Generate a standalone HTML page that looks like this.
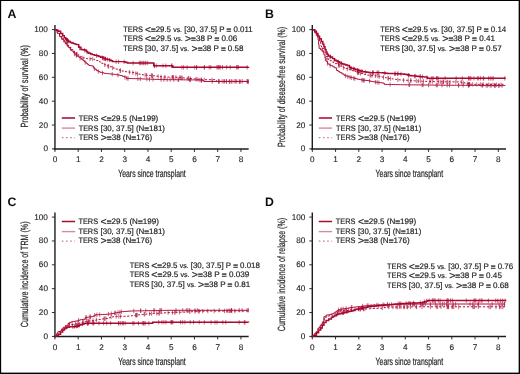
<!DOCTYPE html>
<html><head><meta charset="utf-8"><style>html,body{margin:0;padding:0;background:#fff;width:520px;height:374px;overflow:hidden}svg{display:block;will-change:transform}</style></head>
<body>
<svg width="520" height="374" viewBox="0 0 520 374">
<style>text{font-family:"Liberation Sans",sans-serif;fill:#1e1e1e;text-rendering:geometricPrecision}.tk{font-size:8.2px;stroke:#1e1e1e;stroke-width:0.12px}.xl{font-size:10.4px;stroke:#2b2b2b;stroke-width:0.22px}.vs{font-size:7px}.eq{font-weight:bold;font-size:8.2px;baseline-shift:-0.5px;stroke:#333;stroke-width:0.3px;fill:#333}.lt{font-size:10.5px;baseline-shift:-0.9px}.lg{font-size:8px;stroke:#1e1e1e;stroke-width:0.18px}.pl{font-size:12.3px;font-weight:bold;fill:#111}</style>
<defs><filter id="sb" x="-2%" y="-2%" width="104%" height="104%"><feGaussianBlur stdDeviation="0.3"/></filter></defs>
<rect x="0" y="0" width="520" height="374" fill="#000"/>
<rect x="1.15" y="1.0" width="517.5" height="371.6" fill="#fff"/>
<g filter="url(#sb)">
<line x1="54.95" y1="24.900000000000006" x2="54.95" y2="149.9" stroke="#1c1c1c" stroke-width="1.4"/>
<line x1="53.95" y1="148.9" x2="248.64999999999998" y2="148.9" stroke="#1c1c1c" stroke-width="1.5"/>
<line x1="51.95" y1="148.90" x2="54.95" y2="148.90" stroke="#2a2a2a" stroke-width="1"/>
<text x="47.95" y="151.40" text-anchor="end" class="tk">0</text>
<line x1="51.95" y1="125.04" x2="54.95" y2="125.04" stroke="#2a2a2a" stroke-width="1"/>
<text x="47.95" y="127.54" text-anchor="end" class="tk">20</text>
<line x1="51.95" y1="101.18" x2="54.95" y2="101.18" stroke="#2a2a2a" stroke-width="1"/>
<text x="47.95" y="103.68" text-anchor="end" class="tk">40</text>
<line x1="51.95" y1="77.32" x2="54.95" y2="77.32" stroke="#2a2a2a" stroke-width="1"/>
<text x="47.95" y="79.82" text-anchor="end" class="tk">60</text>
<line x1="51.95" y1="53.46" x2="54.95" y2="53.46" stroke="#2a2a2a" stroke-width="1"/>
<text x="47.95" y="55.96" text-anchor="end" class="tk">80</text>
<line x1="51.95" y1="29.60" x2="54.95" y2="29.60" stroke="#2a2a2a" stroke-width="1"/>
<text x="47.95" y="32.10" text-anchor="end" class="tk">100</text>
<line x1="54.95" y1="148.9" x2="54.95" y2="151.9" stroke="#2a2a2a" stroke-width="1"/>
<text x="54.95" y="162.30" text-anchor="middle" class="tk">0</text>
<line x1="78.20" y1="148.9" x2="78.20" y2="151.9" stroke="#2a2a2a" stroke-width="1"/>
<text x="78.20" y="162.30" text-anchor="middle" class="tk">1</text>
<line x1="101.45" y1="148.9" x2="101.45" y2="151.9" stroke="#2a2a2a" stroke-width="1"/>
<text x="101.45" y="162.30" text-anchor="middle" class="tk">2</text>
<line x1="124.70" y1="148.9" x2="124.70" y2="151.9" stroke="#2a2a2a" stroke-width="1"/>
<text x="124.70" y="162.30" text-anchor="middle" class="tk">3</text>
<line x1="147.95" y1="148.9" x2="147.95" y2="151.9" stroke="#2a2a2a" stroke-width="1"/>
<text x="147.95" y="162.30" text-anchor="middle" class="tk">4</text>
<line x1="171.20" y1="148.9" x2="171.20" y2="151.9" stroke="#2a2a2a" stroke-width="1"/>
<text x="171.20" y="162.30" text-anchor="middle" class="tk">5</text>
<line x1="194.45" y1="148.9" x2="194.45" y2="151.9" stroke="#2a2a2a" stroke-width="1"/>
<text x="194.45" y="162.30" text-anchor="middle" class="tk">6</text>
<line x1="217.70" y1="148.9" x2="217.70" y2="151.9" stroke="#2a2a2a" stroke-width="1"/>
<text x="217.70" y="162.30" text-anchor="middle" class="tk">7</text>
<line x1="240.95" y1="148.9" x2="240.95" y2="151.9" stroke="#2a2a2a" stroke-width="1"/>
<text x="240.95" y="162.30" text-anchor="middle" class="tk">8</text>
<text x="118.25" y="177.1" class="xl" textLength="67.5" lengthAdjust="spacingAndGlyphs">Years since transplant</text>
<text transform="translate(28.1,127.6) rotate(-90)" x="0" y="0" class="xl" textLength="82.6" lengthAdjust="spacingAndGlyphs">Probability of survival (%)</text>
<text x="7.4" y="17.5" class="pl">A</text>
<line x1="312.3" y1="24.900000000000006" x2="312.3" y2="149.9" stroke="#1c1c1c" stroke-width="1.4"/>
<line x1="311.3" y1="148.9" x2="506.0" y2="148.9" stroke="#1c1c1c" stroke-width="1.5"/>
<line x1="309.3" y1="148.90" x2="312.3" y2="148.90" stroke="#2a2a2a" stroke-width="1"/>
<text x="305.3" y="151.40" text-anchor="end" class="tk">0</text>
<line x1="309.3" y1="125.04" x2="312.3" y2="125.04" stroke="#2a2a2a" stroke-width="1"/>
<text x="305.3" y="127.54" text-anchor="end" class="tk">20</text>
<line x1="309.3" y1="101.18" x2="312.3" y2="101.18" stroke="#2a2a2a" stroke-width="1"/>
<text x="305.3" y="103.68" text-anchor="end" class="tk">40</text>
<line x1="309.3" y1="77.32" x2="312.3" y2="77.32" stroke="#2a2a2a" stroke-width="1"/>
<text x="305.3" y="79.82" text-anchor="end" class="tk">60</text>
<line x1="309.3" y1="53.46" x2="312.3" y2="53.46" stroke="#2a2a2a" stroke-width="1"/>
<text x="305.3" y="55.96" text-anchor="end" class="tk">80</text>
<line x1="309.3" y1="29.60" x2="312.3" y2="29.60" stroke="#2a2a2a" stroke-width="1"/>
<text x="305.3" y="32.10" text-anchor="end" class="tk">100</text>
<line x1="312.30" y1="148.9" x2="312.30" y2="151.9" stroke="#2a2a2a" stroke-width="1"/>
<text x="312.30" y="162.30" text-anchor="middle" class="tk">0</text>
<line x1="335.55" y1="148.9" x2="335.55" y2="151.9" stroke="#2a2a2a" stroke-width="1"/>
<text x="335.55" y="162.30" text-anchor="middle" class="tk">1</text>
<line x1="358.80" y1="148.9" x2="358.80" y2="151.9" stroke="#2a2a2a" stroke-width="1"/>
<text x="358.80" y="162.30" text-anchor="middle" class="tk">2</text>
<line x1="382.05" y1="148.9" x2="382.05" y2="151.9" stroke="#2a2a2a" stroke-width="1"/>
<text x="382.05" y="162.30" text-anchor="middle" class="tk">3</text>
<line x1="405.30" y1="148.9" x2="405.30" y2="151.9" stroke="#2a2a2a" stroke-width="1"/>
<text x="405.30" y="162.30" text-anchor="middle" class="tk">4</text>
<line x1="428.55" y1="148.9" x2="428.55" y2="151.9" stroke="#2a2a2a" stroke-width="1"/>
<text x="428.55" y="162.30" text-anchor="middle" class="tk">5</text>
<line x1="451.80" y1="148.9" x2="451.80" y2="151.9" stroke="#2a2a2a" stroke-width="1"/>
<text x="451.80" y="162.30" text-anchor="middle" class="tk">6</text>
<line x1="475.05" y1="148.9" x2="475.05" y2="151.9" stroke="#2a2a2a" stroke-width="1"/>
<text x="475.05" y="162.30" text-anchor="middle" class="tk">7</text>
<line x1="498.30" y1="148.9" x2="498.30" y2="151.9" stroke="#2a2a2a" stroke-width="1"/>
<text x="498.30" y="162.30" text-anchor="middle" class="tk">8</text>
<text x="375.6" y="177.1" class="xl" textLength="67.5" lengthAdjust="spacingAndGlyphs">Years since transplant</text>
<text transform="translate(285.3,147.0) rotate(-90)" x="0" y="0" class="xl" textLength="120.1" lengthAdjust="spacingAndGlyphs">Probability of disease-free survival (%)</text>
<text x="265.0" y="17.6" class="pl">B</text>
<line x1="54.95" y1="212.39999999999998" x2="54.95" y2="337.4" stroke="#1c1c1c" stroke-width="1.4"/>
<line x1="53.95" y1="336.4" x2="248.64999999999998" y2="336.4" stroke="#1c1c1c" stroke-width="1.5"/>
<line x1="51.95" y1="336.40" x2="54.95" y2="336.40" stroke="#2a2a2a" stroke-width="1"/>
<text x="47.95" y="338.90" text-anchor="end" class="tk">0</text>
<line x1="51.95" y1="312.54" x2="54.95" y2="312.54" stroke="#2a2a2a" stroke-width="1"/>
<text x="47.95" y="315.04" text-anchor="end" class="tk">20</text>
<line x1="51.95" y1="288.68" x2="54.95" y2="288.68" stroke="#2a2a2a" stroke-width="1"/>
<text x="47.95" y="291.18" text-anchor="end" class="tk">40</text>
<line x1="51.95" y1="264.82" x2="54.95" y2="264.82" stroke="#2a2a2a" stroke-width="1"/>
<text x="47.95" y="267.32" text-anchor="end" class="tk">60</text>
<line x1="51.95" y1="240.96" x2="54.95" y2="240.96" stroke="#2a2a2a" stroke-width="1"/>
<text x="47.95" y="243.46" text-anchor="end" class="tk">80</text>
<line x1="51.95" y1="217.10" x2="54.95" y2="217.10" stroke="#2a2a2a" stroke-width="1"/>
<text x="47.95" y="219.60" text-anchor="end" class="tk">100</text>
<line x1="54.95" y1="336.4" x2="54.95" y2="339.4" stroke="#2a2a2a" stroke-width="1"/>
<text x="54.95" y="349.80" text-anchor="middle" class="tk">0</text>
<line x1="78.20" y1="336.4" x2="78.20" y2="339.4" stroke="#2a2a2a" stroke-width="1"/>
<text x="78.20" y="349.80" text-anchor="middle" class="tk">1</text>
<line x1="101.45" y1="336.4" x2="101.45" y2="339.4" stroke="#2a2a2a" stroke-width="1"/>
<text x="101.45" y="349.80" text-anchor="middle" class="tk">2</text>
<line x1="124.70" y1="336.4" x2="124.70" y2="339.4" stroke="#2a2a2a" stroke-width="1"/>
<text x="124.70" y="349.80" text-anchor="middle" class="tk">3</text>
<line x1="147.95" y1="336.4" x2="147.95" y2="339.4" stroke="#2a2a2a" stroke-width="1"/>
<text x="147.95" y="349.80" text-anchor="middle" class="tk">4</text>
<line x1="171.20" y1="336.4" x2="171.20" y2="339.4" stroke="#2a2a2a" stroke-width="1"/>
<text x="171.20" y="349.80" text-anchor="middle" class="tk">5</text>
<line x1="194.45" y1="336.4" x2="194.45" y2="339.4" stroke="#2a2a2a" stroke-width="1"/>
<text x="194.45" y="349.80" text-anchor="middle" class="tk">6</text>
<line x1="217.70" y1="336.4" x2="217.70" y2="339.4" stroke="#2a2a2a" stroke-width="1"/>
<text x="217.70" y="349.80" text-anchor="middle" class="tk">7</text>
<line x1="240.95" y1="336.4" x2="240.95" y2="339.4" stroke="#2a2a2a" stroke-width="1"/>
<text x="240.95" y="349.80" text-anchor="middle" class="tk">8</text>
<text x="118.25" y="364.59999999999997" class="xl" textLength="67.5" lengthAdjust="spacingAndGlyphs">Years since transplant</text>
<text transform="translate(28.1,327.2) rotate(-90)" x="0" y="0" class="xl" textLength="105.7" lengthAdjust="spacingAndGlyphs">Cumulative incidence of TRM (%)</text>
<text x="7.6" y="205.5" class="pl">C</text>
<line x1="312.3" y1="212.39999999999998" x2="312.3" y2="337.4" stroke="#1c1c1c" stroke-width="1.4"/>
<line x1="311.3" y1="336.4" x2="506.0" y2="336.4" stroke="#1c1c1c" stroke-width="1.5"/>
<line x1="309.3" y1="336.40" x2="312.3" y2="336.40" stroke="#2a2a2a" stroke-width="1"/>
<text x="305.3" y="338.90" text-anchor="end" class="tk">0</text>
<line x1="309.3" y1="312.54" x2="312.3" y2="312.54" stroke="#2a2a2a" stroke-width="1"/>
<text x="305.3" y="315.04" text-anchor="end" class="tk">20</text>
<line x1="309.3" y1="288.68" x2="312.3" y2="288.68" stroke="#2a2a2a" stroke-width="1"/>
<text x="305.3" y="291.18" text-anchor="end" class="tk">40</text>
<line x1="309.3" y1="264.82" x2="312.3" y2="264.82" stroke="#2a2a2a" stroke-width="1"/>
<text x="305.3" y="267.32" text-anchor="end" class="tk">60</text>
<line x1="309.3" y1="240.96" x2="312.3" y2="240.96" stroke="#2a2a2a" stroke-width="1"/>
<text x="305.3" y="243.46" text-anchor="end" class="tk">80</text>
<line x1="309.3" y1="217.10" x2="312.3" y2="217.10" stroke="#2a2a2a" stroke-width="1"/>
<text x="305.3" y="219.60" text-anchor="end" class="tk">100</text>
<line x1="312.30" y1="336.4" x2="312.30" y2="339.4" stroke="#2a2a2a" stroke-width="1"/>
<text x="312.30" y="349.80" text-anchor="middle" class="tk">0</text>
<line x1="335.55" y1="336.4" x2="335.55" y2="339.4" stroke="#2a2a2a" stroke-width="1"/>
<text x="335.55" y="349.80" text-anchor="middle" class="tk">1</text>
<line x1="358.80" y1="336.4" x2="358.80" y2="339.4" stroke="#2a2a2a" stroke-width="1"/>
<text x="358.80" y="349.80" text-anchor="middle" class="tk">2</text>
<line x1="382.05" y1="336.4" x2="382.05" y2="339.4" stroke="#2a2a2a" stroke-width="1"/>
<text x="382.05" y="349.80" text-anchor="middle" class="tk">3</text>
<line x1="405.30" y1="336.4" x2="405.30" y2="339.4" stroke="#2a2a2a" stroke-width="1"/>
<text x="405.30" y="349.80" text-anchor="middle" class="tk">4</text>
<line x1="428.55" y1="336.4" x2="428.55" y2="339.4" stroke="#2a2a2a" stroke-width="1"/>
<text x="428.55" y="349.80" text-anchor="middle" class="tk">5</text>
<line x1="451.80" y1="336.4" x2="451.80" y2="339.4" stroke="#2a2a2a" stroke-width="1"/>
<text x="451.80" y="349.80" text-anchor="middle" class="tk">6</text>
<line x1="475.05" y1="336.4" x2="475.05" y2="339.4" stroke="#2a2a2a" stroke-width="1"/>
<text x="475.05" y="349.80" text-anchor="middle" class="tk">7</text>
<line x1="498.30" y1="336.4" x2="498.30" y2="339.4" stroke="#2a2a2a" stroke-width="1"/>
<text x="498.30" y="349.80" text-anchor="middle" class="tk">8</text>
<text x="375.6" y="364.59999999999997" class="xl" textLength="67.5" lengthAdjust="spacingAndGlyphs">Years since transplant</text>
<text transform="translate(285.3,331.2) rotate(-90)" x="0" y="0" class="xl" textLength="113.3" lengthAdjust="spacingAndGlyphs">Cumulative incidence of relapse (%)</text>
<text x="265.0" y="205.5" class="pl">D</text>
<path d="M54.90,29.70H56.65V30.50H58.40V31.30H60.60V33.40H62.70V35.60H64.30V37.70H65.65V39.05H67.00V40.40H68.60V41.45H70.20V42.50H71.80V43.05H73.40V43.60H75.00V44.10H76.60V44.60H78.70V47.30H80.90V49.50H82.50V49.75H84.10V50.00H86.20V51.60H87.55V52.40H88.90V53.20H90.60V53.90H92.30V54.60H94.45V55.15H96.60V55.70H98.70V56.50H100.80V57.30H102.95V58.10H105.10V58.90H107.25V59.45H109.40V60.00H111.00V60.80H112.60V61.60H124.40V61.90H126.00V62.45H127.60V63.00H153.10V63.00H153.70V65.70H172.30V65.70H172.80V67.30H248.60V67.20" fill="none" stroke="#a8072f" stroke-width="1.45"/>
<path d="M87.1,49.9v4.4 M220.1,65.0v4.4 M204.5,65.1v4.4 M109.6,57.9v4.4 M154.4,63.5v4.4 M145.9,60.8v4.4 M183.6,65.1v4.4 M209.2,65.1v4.4 M79.5,45.9v4.4 M67.3,38.4v4.4 M218.0,65.0v4.4 M142.8,60.8v4.4 M204.2,65.1v4.4 M62.4,33.1v4.4 M145.1,60.8v4.4 M196.6,65.1v4.4 M104.7,56.5v4.4 M238.4,65.0v4.4 M230.2,65.0v4.4 M67.7,38.7v4.4 M66.7,37.9v4.4 M163.0,63.5v4.4 M237.2,65.0v4.4 M133.1,60.8v4.4 M102.4,55.7v4.4 M140.8,60.8v4.4 M67.4,38.5v4.4 M103.4,56.1v4.4 M143.7,60.8v4.4 M154.5,63.5v4.4 M105.5,56.8v4.4 M105.1,56.7v4.4 M102.8,55.9v4.4 M147.8,60.8v4.4 M116.1,59.5v4.4 M66.0,37.2v4.4 M218.3,65.0v4.4 M165.8,63.5v4.4 M181.9,65.1v4.4 M96.7,53.5v4.4 M247.2,65.0v4.4 M222.5,65.0v4.4 M84.6,48.1v4.4 M124.1,59.7v4.4 M196.6,65.1v4.4 M194.7,65.1v4.4 M236.7,65.0v4.4 M140.8,60.8v4.4 M216.9,65.0v4.4 M187.1,65.1v4.4 M118.6,59.6v4.4 M171.6,63.5v4.4 M226.7,65.0v4.4 M219.9,65.0v4.4 M156.3,63.5v4.4 M171.9,63.5v4.4 M68.4,39.1v4.4 M107.3,57.3v4.4 M210.8,65.0v4.4 M139.3,60.8v4.4" stroke="#a8072f" stroke-width="0.7" opacity="0.85"/>
<path d="M54.90,29.70H57.30V33.40H59.50V36.60H61.60V39.30H63.80V42.00H65.40V43.85H67.00V45.70H68.60V47.60H70.20V49.50H71.80V51.10H73.40V52.70H75.00V54.30H76.60V55.90H78.20V56.95H79.80V58.00H81.40V59.35H83.00V60.70H84.60V62.05H86.20V63.40H87.55V64.45H88.90V65.50H91.20V65.90H93.30V68.00H94.95V69.35H96.60V70.70H98.20V71.50H99.80V72.30H101.90V72.80H104.00V73.30H105.80V73.50H107.60V73.70H109.40V73.90H111.17V74.07H112.93V74.23H114.70V74.40H116.50V74.77H118.30V75.13H120.10V75.50H122.25V76.30H124.40V77.10H126.50V78.40H128.24V78.46H129.98V78.52H131.72V78.58H133.47V78.63H135.21V78.69H136.95V78.75H138.69V78.81H140.43V78.87H142.18V78.92H143.92V78.98H145.66V79.04H147.40V79.10H149.14V79.16H150.88V79.22H152.61V79.29H154.35V79.35H156.09V79.41H157.83V79.47H159.56V79.54H161.30V79.60H163.14V79.62H164.99V79.64H166.83V79.66H168.67V79.68H170.51V79.70H172.36V79.71H174.20V79.73H176.04V79.75H177.89V79.77H179.73V79.79H181.57V79.81H183.41V79.83H185.26V79.85H187.10V79.87H188.94V79.89H190.79V79.90H192.63V79.92H194.47V79.94H196.31V79.96H198.16V79.98H200.00V80.00H202.00V80.75H204.00V81.50H248.60V81.60" fill="none" stroke="#a80a33" stroke-width="0.95"/>
<path d="M240.7,79.4v4.4 M239.3,79.4v4.4 M80.1,56.1v4.4 M85.2,60.3v4.4 M219.2,79.3v4.4 M201.4,78.3v4.4 M189.6,77.7v4.4 M125.0,75.3v4.4 M178.2,77.6v4.4 M178.4,77.6v4.4 M173.8,77.5v4.4 M98.3,69.3v4.4 M146.9,76.9v4.4 M140.3,76.7v4.4 M199.1,77.8v4.4 M247.7,79.4v4.4 M239.6,79.4v4.4 M167.2,77.5v4.4 M149.5,77.0v4.4 M117.9,72.9v4.4 M76.4,53.5v4.4 M74.9,52.0v4.4 M153.0,77.1v4.4 M126.9,76.2v4.4 M137.9,76.6v4.4 M229.3,79.4v4.4 M163.9,77.4v4.4 M170.1,77.5v4.4 M112.2,72.0v4.4 M74.3,51.4v4.4 M128.1,76.3v4.4 M94.4,66.7v4.4 M161.1,77.4v4.4 M248.4,79.4v4.4 M190.5,77.7v4.4 M102.5,70.7v4.4 M229.6,79.4v4.4 M212.3,79.3v4.4 M201.2,78.2v4.4 M231.9,79.4v4.4" stroke="#a80a33" stroke-width="0.7" opacity="0.85"/>
<path d="M54.90,29.70H57.30V32.90H59.50V35.60H60.85V37.20H62.20V38.80H64.80V42.00H66.40V43.85H68.00V45.70H69.65V47.60H71.30V49.50H72.90V51.10H74.50V52.70H76.60V54.30H78.70V55.90H80.85V56.95H83.00V58.00H85.15V58.40H87.30V58.80H92.30V59.00H94.45V59.75H96.60V60.50H98.20V61.30H99.80V62.10H101.40V63.20H103.00V64.30H105.15V65.10H107.30V65.90H109.40V66.70H111.50V67.50H113.65V68.30H115.80V69.10H117.95V69.90H120.10V70.70H122.25V71.15H124.40V71.60H126.40V71.85H128.40V72.10H130.40V72.35H132.40V72.60H134.55V73.15H136.70V73.70H138.47V74.07H140.23V74.43H142.00V74.80H143.80V74.97H145.60V75.13H147.40V75.30H149.00V75.45H150.60V75.60H152.20V75.75H153.80V75.90H155.68V76.15H157.55V76.40H159.43V76.65H161.30V76.90H163.14V76.95H164.98V77.00H166.81V77.05H168.65V77.10H170.49V77.15H172.32V77.20H174.16V77.25H176.00V77.30H177.86V77.47H179.71V77.64H181.57V77.81H183.43V77.99H185.29V78.16H187.14V78.33H189.00V78.50H190.86V78.67H192.71V78.84H194.57V79.01H196.43V79.19H198.29V79.36H200.14V79.53H202.00V79.70H215.00V80.00H216.40V81.30H248.60V81.30" fill="none" stroke="#a80a33" stroke-width="0.95" stroke-dasharray="2.2,1.8"/>
<path d="M108.7,64.2v4.4 M164.9,74.8v4.4 M132.9,70.5v4.4 M175.9,75.1v4.4 M179.9,75.5v4.4 M77.0,52.4v4.4 M67.4,42.8v4.4 M218.8,79.1v4.4 M112.6,65.7v4.4 M108.0,64.0v4.4 M247.8,79.1v4.4 M151.3,73.5v4.4 M218.6,79.1v4.4 M152.5,73.6v4.4 M182.3,75.7v4.4 M92.7,56.9v4.4 M181.6,75.6v4.4 M224.4,79.1v4.4 M161.1,74.7v4.4 M201.1,77.4v4.4 M188.3,76.2v4.4 M76.8,52.2v4.4 M204.2,77.6v4.4 M173.5,75.0v4.4 M120.3,68.5v4.4 M70.7,46.6v4.4 M223.9,79.1v4.4 M151.8,73.5v4.4 M197.0,77.0v4.4 M226.4,79.1v4.4 M196.1,77.0v4.4 M234.1,79.1v4.4 M137.5,71.7v4.4 M212.0,77.7v4.4 M146.6,73.0v4.4 M236.8,79.1v4.4 M226.4,79.1v4.4 M82.9,55.7v4.4 M90.0,56.7v4.4 M104.8,62.8v4.4 M242.3,79.1v4.4 M145.1,72.9v4.4 M180.1,75.5v4.4 M120.3,68.5v4.4 M158.1,74.3v4.4 M135.8,71.3v4.4 M129.4,70.0v4.4 M172.4,75.0v4.4 M172.3,75.0v4.4 M231.0,79.1v4.4 M190.2,76.4v4.4 M235.6,79.1v4.4 M222.2,79.1v4.4 M246.9,79.1v4.4 M188.2,76.2v4.4" stroke="#a80a33" stroke-width="0.7" opacity="0.85"/>
<path d="M312.70,29.70H314.80V31.30H316.40V33.40H318.00V36.10H319.60V38.80H321.20V41.40H322.80V44.10H323.90V46.80H325.00V49.50H326.00V52.10H327.10V54.30H328.20V55.90H330.30V56.90H332.50V58.60H334.60V60.20H336.20V61.00H337.80V61.80H339.40V62.60H341.00V63.40H342.60V63.90H344.20V64.40H345.80V64.95H347.40V65.50H349.40V67.80H351.55V68.35H353.70V68.90H355.85V69.70H358.00V70.50H360.10V71.05H362.20V71.60H363.82V71.80H365.44V72.00H367.06V72.20H368.68V72.40H370.30V72.60H382.00V72.80H383.80V73.00H385.60V73.20H387.40V73.40H389.23V73.47H391.06V73.54H392.89V73.61H394.71V73.69H396.54V73.76H398.37V73.83H400.20V73.90H402.13V74.07H404.07V74.23H406.00V74.40H407.65V74.95H409.30V75.50H411.08V75.68H412.87V75.87H414.65V76.05H416.43V76.23H418.22V76.42H420.00V76.60H421.62V76.72H423.25V76.85H424.88V76.97H426.50V77.10H427.50V78.20H505.30V78.40" fill="none" stroke="#a8072f" stroke-width="1.45"/>
<path d="M365.3,69.8v4.4 M340.9,61.2v4.4 M394.6,71.5v4.4 M350.4,65.9v4.4 M334.2,57.7v4.4 M395.6,71.5v4.4 M490.3,76.2v4.4 M468.7,76.1v4.4 M462.3,76.1v4.4 M362.7,69.5v4.4 M420.4,74.4v4.4 M372.7,70.4v4.4 M353.6,66.7v4.4 M341.5,61.3v4.4 M361.3,69.2v4.4 M492.0,76.2v4.4 M473.9,76.1v4.4 M469.9,76.1v4.4 M468.7,76.1v4.4 M357.5,68.1v4.4 M378.8,70.5v4.4 M436.9,76.0v4.4 M456.2,76.1v4.4 M478.7,76.1v4.4 M483.3,76.1v4.4 M337.9,59.6v4.4 M433.1,76.0v4.4 M445.1,76.0v4.4 M414.7,73.9v4.4 M354.6,67.0v4.4 M408.8,73.1v4.4 M338.4,59.9v4.4 M493.3,76.2v4.4 M480.6,76.1v4.4 M422.4,74.6v4.4 M377.0,70.5v4.4 M488.6,76.2v4.4 M426.9,75.4v4.4 M483.7,76.1v4.4 M477.4,76.1v4.4 M415.2,73.9v4.4 M397.9,71.6v4.4 M431.8,76.0v4.4 M401.0,71.8v4.4 M351.6,66.2v4.4 M377.9,70.5v4.4 M470.9,76.1v4.4 M329.9,54.5v4.4 M330.5,54.8v4.4 M436.8,76.0v4.4 M373.4,70.5v4.4 M420.0,74.4v4.4 M408.4,73.0v4.4 M384.8,70.9v4.4 M504.8,76.2v4.4 M357.8,68.2v4.4 M397.7,71.6v4.4 M359.1,68.6v4.4 M438.0,76.0v4.4 M372.6,70.4v4.4" stroke="#a8072f" stroke-width="0.7" opacity="0.85"/>
<path d="M312.70,29.70H314.55V32.65H316.40V35.60H318.00V39.80H318.60V44.60H319.10V48.40H320.70V50.00H322.80V52.10H323.90V54.80H325.00V58.00H326.00V61.20H327.60V63.90H329.30V65.10H331.20V65.70H332.80V66.75H334.40V67.80H336.60V70.50H338.20V71.55H339.80V72.60H341.90V73.95H344.00V75.30H346.15V76.10H348.30V76.90H350.45V77.45H352.60V78.00H354.75V78.55H356.90V79.10H358.67V79.43H360.43V79.77H362.20V80.10H364.13V80.30H366.07V80.50H368.00V80.70H370.30V81.40H372.25V81.67H374.20V81.93H376.15V82.20H378.10V82.47H380.05V82.73H382.00V83.00H384.20V84.40H386.02V84.43H387.83V84.47H389.65V84.50H391.47V84.53H393.28V84.57H395.10V84.60H396.92V84.63H398.73V84.67H400.55V84.70H402.37V84.73H404.18V84.77H406.00V84.80H407.81V84.82H409.62V84.84H411.43V84.86H413.24V84.88H415.05V84.90H416.86V84.91H418.67V84.93H420.48V84.95H422.29V84.97H424.10V84.99H425.90V85.01H427.71V85.03H429.52V85.05H431.33V85.07H433.14V85.09H434.95V85.10H436.76V85.12H438.57V85.14H440.38V85.16H442.19V85.18H444.00V85.20H445.80V85.21H447.61V85.22H449.41V85.24H451.21V85.25H453.01V85.26H454.82V85.27H456.62V85.28H458.42V85.29H460.23V85.31H462.03V85.32H463.83V85.33H465.64V85.34H467.44V85.35H469.24V85.36H471.04V85.38H472.85V85.39H474.65V85.40H476.45V85.41H478.26V85.42H480.06V85.44H481.86V85.45H483.66V85.46H485.47V85.47H487.27V85.48H489.07V85.49H490.88V85.51H492.68V85.52H494.48V85.53H496.29V85.54H498.09V85.55H499.89V85.56H501.69V85.58H503.50V85.59H505.30V85.60" fill="none" stroke="#a80a33" stroke-width="0.95"/>
<path d="M437.3,82.9v4.4 M458.7,83.1v4.4 M468.4,83.2v4.4 M494.9,83.3v4.4 M458.4,83.1v4.4 M491.3,83.3v4.4 M330.2,63.2v4.4 M409.0,82.6v4.4 M495.1,83.3v4.4 M442.0,83.0v4.4 M487.4,83.3v4.4 M345.4,73.6v4.4 M409.6,82.6v4.4 M369.5,78.9v4.4 M423.0,82.8v4.4 M428.5,82.8v4.4 M327.4,61.3v4.4 M364.1,78.1v4.4 M375.4,79.9v4.4 M490.2,83.3v4.4 M463.1,83.1v4.4 M353.8,76.1v4.4 M468.7,83.2v4.4 M350.0,75.1v4.4 M436.3,82.9v4.4 M347.8,74.5v4.4 M325.3,56.8v4.4 M482.1,83.2v4.4 M362.8,78.0v4.4 M363.9,78.1v4.4 M502.1,83.4v4.4 M482.3,83.2v4.4 M377.2,80.1v4.4 M498.4,83.4v4.4 M422.2,82.8v4.4 M447.2,83.0v4.4 M361.9,77.8v4.4 M494.7,83.3v4.4 M449.5,83.0v4.4 M499.3,83.4v4.4 M486.1,83.3v4.4 M378.9,80.4v4.4 M390.1,82.3v4.4 M354.9,76.4v4.4 M351.3,75.5v4.4" stroke="#a80a33" stroke-width="0.7" opacity="0.85"/>
<path d="M312.70,29.70H314.10V31.35H315.50V33.00H317.50V37.00H319.50V42.00H320.70V46.00H321.50V48.40H323.90V52.70H326.00V56.40H328.20V59.50H330.10V60.75H332.00V62.00H333.68V62.80H335.35V63.60H337.02V64.40H338.70V65.20H340.47V66.13H342.23V67.07H344.00V68.00H345.71V68.57H347.43V69.14H349.14V69.71H350.86V70.29H352.57V70.86H354.29V71.43H356.00V72.00H357.67V72.50H359.33V73.00H361.00V73.50H362.67V74.00H364.33V74.50H366.00V75.00H367.78V75.17H369.57V75.33H371.35V75.50H373.13V75.67H374.92V75.83H376.70V76.00H378.48V76.37H380.27V76.73H382.05V77.10H383.83V77.47H385.62V77.83H387.40V78.20H389.17V78.47H390.93V78.73H392.70V79.00H394.47V79.27H396.23V79.53H398.00V79.80H400.00V79.92H402.00V80.05H404.00V80.17H406.00V80.30H407.74V80.42H409.48V80.54H411.22V80.66H412.96V80.78H414.70V80.90H416.48V80.98H418.27V81.07H420.05V81.15H421.83V81.23H423.62V81.32H425.40V81.40H427.26V81.45H429.12V81.50H430.98V81.55H432.84V81.60H434.70V81.65H436.56V81.70H438.42V81.75H440.28V81.80H442.14V81.85H444.00V81.90H460.80V82.20H462.82V82.70H464.85V83.20H466.88V83.70H468.90V84.20H470.72V84.23H472.54V84.27H474.36V84.31H476.18V84.34H478.00V84.38H479.82V84.41H481.64V84.45H483.46V84.48H485.28V84.52H487.10V84.55H488.92V84.59H490.74V84.62H492.56V84.66H494.38V84.69H496.20V84.73H498.02V84.76H499.84V84.80H501.66V84.83H503.48V84.87H505.30V84.90" fill="none" stroke="#a80a33" stroke-width="0.95" stroke-dasharray="2.2,1.8"/>
<path d="M467.4,81.6v4.4 M472.7,82.1v4.4 M410.9,78.4v4.4 M370.0,73.2v4.4 M322.1,47.2v4.4 M443.5,79.7v4.4 M408.2,78.3v4.4 M461.3,80.1v4.4 M390.4,76.5v4.4 M463.2,80.6v4.4 M372.0,73.4v4.4 M469.0,82.0v4.4 M455.8,79.9v4.4 M397.9,77.6v4.4 M420.7,79.0v4.4 M447.0,79.8v4.4 M357.4,70.2v4.4 M423.5,79.1v4.4 M469.6,82.0v4.4 M370.7,73.2v4.4 M469.3,82.0v4.4 M447.7,79.8v4.4 M476.8,82.2v4.4 M383.5,75.2v4.4 M339.1,63.2v4.4 M468.7,81.9v4.4 M469.5,82.0v4.4 M403.6,78.0v4.4 M339.2,63.3v4.4 M358.1,70.4v4.4 M438.4,79.5v4.4 M375.4,73.7v4.4 M496.4,82.5v4.4 M429.9,79.3v4.4 M358.8,70.6v4.4 M442.1,79.6v4.4 M388.1,76.1v4.4 M493.0,82.5v4.4 M488.7,82.4v4.4 M416.3,78.8v4.4 M440.2,79.6v4.4 M449.9,79.8v4.4 M469.6,82.0v4.4 M501.0,82.6v4.4 M327.2,55.9v4.4 M388.2,76.1v4.4 M432.3,79.4v4.4 M377.8,74.0v4.4 M430.0,79.3v4.4 M338.4,62.9v4.4 M483.3,82.3v4.4 M418.3,78.9v4.4 M343.4,65.5v4.4 M443.5,79.7v4.4 M379.2,74.3v4.4 M358.0,70.4v4.4 M410.7,78.4v4.4 M347.3,66.9v4.4 M360.5,71.1v4.4 M480.7,82.2v4.4" stroke="#a80a33" stroke-width="0.7" opacity="0.85"/>
<path d="M55.20,336.10H56.80V335.15H58.40V334.20H60.60V332.10H62.70V329.90H64.30V328.85H65.90V327.80H67.50V327.25H69.10V326.70H73.40V326.70H75.55V326.20H77.70V325.70H79.30V325.05H80.90V324.40H82.50V323.95H84.10V323.50H86.07V323.43H88.05V323.35H90.03V323.27H92.00V323.20H152.20V323.20H152.70V322.20H248.60V322.30" fill="none" stroke="#a8072f" stroke-width="1.45"/>
<path d="M125.1,321.0v4.4 M93.5,321.0v4.4 M184.9,320.0v4.4 M79.2,322.9v4.4 M163.9,320.0v4.4 M132.8,321.0v4.4 M76.6,323.8v4.4 M158.7,320.0v4.4 M72.8,324.5v4.4 M145.2,321.0v4.4 M78.8,323.1v4.4 M82.6,321.7v4.4 M143.5,321.0v4.4 M217.0,320.1v4.4 M88.6,321.1v4.4 M106.8,321.0v4.4 M180.6,320.0v4.4 M239.1,320.1v4.4 M171.4,320.0v4.4 M138.4,321.0v4.4 M244.3,320.1v4.4 M74.5,324.2v4.4 M222.8,320.1v4.4 M118.9,321.0v4.4 M92.3,321.0v4.4 M87.5,321.2v4.4 M122.3,321.0v4.4 M215.0,320.1v4.4 M99.0,321.0v4.4 M172.2,320.0v4.4 M182.7,320.0v4.4 M134.0,321.0v4.4 M166.0,320.0v4.4 M77.5,323.6v4.4 M76.9,323.7v4.4 M103.6,321.0v4.4 M190.2,320.0v4.4 M144.1,321.0v4.4 M123.4,321.0v4.4 M172.9,320.0v4.4 M148.8,321.0v4.4 M120.7,321.0v4.4 M211.1,320.1v4.4 M193.6,320.0v4.4 M110.6,321.0v4.4 M170.9,320.0v4.4 M161.9,320.0v4.4 M225.8,320.1v4.4 M199.2,320.0v4.4 M118.6,321.0v4.4 M245.0,320.1v4.4 M87.6,321.2v4.4 M142.3,321.0v4.4 M204.3,320.1v4.4 M93.8,321.0v4.4" stroke="#a8072f" stroke-width="0.7" opacity="0.85"/>
<path d="M55.20,336.10H56.80V333.20H57.90V331.60H60.00V331.00H61.60V328.90H63.20V327.30H65.40V325.70H68.00V323.50H69.35V322.70H70.70V321.90H72.05V321.65H73.40V321.40H75.00V321.15H76.60V320.90H78.20V320.35H79.80V319.80H81.40V319.55H83.00V319.30H85.20V317.60H87.30V317.10H88.87V316.93H90.43V316.77H92.00V316.60H93.65V315.70H95.30V314.80H97.08V314.72H98.87V314.63H100.65V314.55H102.43V314.47H104.22V314.38H106.00V314.30H107.80V314.10H109.60V313.90H111.40V313.70H113.17V313.33H114.93V312.97H116.70V312.60H118.50V312.27H120.30V311.93H122.10V311.60H124.07V311.45H126.05V311.30H128.03V311.15H130.00V311.00H131.81V310.97H133.62V310.93H135.43V310.90H137.24V310.87H139.05V310.83H140.86V310.80H142.67V310.77H144.48V310.73H146.29V310.70H148.10V310.67H149.90V310.63H151.71V310.60H153.52V310.57H155.33V310.53H157.14V310.50H158.95V310.47H160.76V310.43H162.57V310.40H164.38V310.37H166.19V310.33H168.00V310.30H248.60V310.20" fill="none" stroke="#a80a33" stroke-width="0.95"/>
<path d="M114.4,310.9v4.4 M242.1,308.0v4.4 M96.9,312.5v4.4 M197.4,308.1v4.4 M89.8,314.6v4.4 M118.0,310.2v4.4 M248.4,308.0v4.4 M111.4,311.5v4.4 M186.4,308.1v4.4 M154.7,308.3v4.4 M153.7,308.4v4.4 M160.9,308.2v4.4 M108.4,311.8v4.4 M219.2,308.0v4.4 M90.5,314.6v4.4 M115.7,310.6v4.4 M78.5,318.1v4.4 M121.3,309.5v4.4 M145.8,308.5v4.4 M231.6,308.0v4.4 M140.8,308.6v4.4 M94.7,312.9v4.4 M119.9,309.8v4.4 M247.1,308.0v4.4 M86.0,315.2v4.4 M182.7,308.1v4.4 M140.5,308.6v4.4 M189.7,308.1v4.4 M133.8,308.7v4.4 M195.0,308.1v4.4 M161.4,308.2v4.4 M187.8,308.1v4.4 M231.5,308.0v4.4 M176.0,308.1v4.4 M99.7,312.4v4.4 M86.2,315.2v4.4 M239.2,308.0v4.4 M159.8,308.3v4.4" stroke="#a80a33" stroke-width="0.7" opacity="0.85"/>
<path d="M55.20,336.10H57.35V334.10H59.50V332.10H61.10V330.50H62.70V328.90H64.30V327.55H65.90V326.20H67.50V325.30H69.10V324.40H73.40V324.40H75.17V323.93H76.93V323.47H78.70V323.00H80.50V322.63H82.30V322.27H84.10V321.90H86.25V321.40H88.40V320.90H92.00V320.60H93.74V320.30H95.48V320.00H97.22V319.70H98.96V319.40H100.70V319.10H102.47V318.90H104.23V318.70H106.00V318.50H107.80V317.97H109.60V317.43H111.40V316.90H113.17V316.73H114.93V316.57H116.70V316.40H122.10V316.40H124.07V316.27H126.05V316.15H128.03V316.02H130.00V315.90H131.74V315.68H133.48V315.46H135.22V315.24H136.96V315.02H138.70V314.80H140.48V314.62H142.27V314.43H144.05V314.25H145.83V314.07H147.62V313.88H149.40V313.70H151.17V313.62H152.93V313.53H154.70V313.45H156.47V313.37H158.23V313.28H160.00V313.20H162.00V313.05H164.00V312.90H166.00V312.75H168.00V312.60H169.89V312.53H171.78V312.47H173.67V312.40H175.56V312.33H177.44V312.27H179.33V312.20H181.22V312.13H183.11V312.07H185.00V312.00H186.75V311.92H188.50V311.83H190.25V311.75H192.00V311.67H193.75V311.58H195.50V311.50H197.25V311.42H199.00V311.33H200.75V311.25H202.50V311.17H204.25V311.08H206.00V311.00H248.60V310.80" fill="none" stroke="#a80a33" stroke-width="0.95" stroke-dasharray="2.2,1.8"/>
<path d="M151.6,311.4v4.4 M135.4,313.0v4.4 M93.0,318.2v4.4 M224.5,308.7v4.4 M69.2,322.2v4.4 M158.8,311.1v4.4 M230.2,308.7v4.4 M82.6,320.0v4.4 M168.1,310.4v4.4 M179.4,310.0v4.4 M75.4,321.7v4.4 M136.5,312.9v4.4 M195.0,309.3v4.4 M149.6,311.5v4.4 M198.9,309.1v4.4 M96.4,317.6v4.4 M111.0,314.8v4.4 M88.0,318.8v4.4 M159.4,311.0v4.4 M234.8,308.7v4.4 M174.6,310.2v4.4 M207.8,308.8v4.4 M137.3,312.8v4.4 M202.7,309.0v4.4 M86.4,319.2v4.4 M120.6,314.2v4.4 M189.8,309.6v4.4 M199.1,309.1v4.4 M144.2,312.0v4.4 M83.8,319.8v4.4 M116.2,314.2v4.4 M105.9,316.3v4.4 M118.8,314.2v4.4 M214.2,308.8v4.4 M104.0,316.5v4.4 M228.1,308.7v4.4 M226.8,308.7v4.4 M77.9,321.0v4.4 M136.4,312.9v4.4 M156.8,311.2v4.4 M72.2,322.2v4.4 M144.7,312.0v4.4 M231.7,308.7v4.4 M88.2,318.7v4.4 M175.8,310.1v4.4 M89.9,318.6v4.4 M172.5,310.2v4.4 M229.7,308.7v4.4 M104.7,316.5v4.4 M69.5,322.2v4.4" stroke="#a80a33" stroke-width="0.7" opacity="0.85"/>
<path d="M312.10,336.00H313.70V335.70H315.30V335.40H316.40V332.80H318.60V330.10H320.70V328.00H322.30V325.30H323.90V322.60H326.00V320.50H328.70V318.90H331.40V317.30H333.00V316.45H334.60V315.60H336.20V314.80H337.80V314.00H339.95V313.50H342.10V313.00H344.25V312.45H346.40V311.90H348.20V311.55H350.00V311.20H351.74V310.66H353.48V310.12H355.22V309.58H356.96V309.04H358.70V308.50H360.48V308.17H362.27V307.83H364.05V307.50H365.83V307.17H367.62V306.83H369.40V306.50H371.17V306.33H372.93V306.17H374.70V306.00H376.47V305.83H378.23V305.67H380.00V305.50H381.67V305.35H383.33V305.20H385.00V305.05H386.67V304.90H388.33V304.75H390.00V304.60H391.92V304.42H393.83V304.23H395.75V304.05H397.67V303.87H399.58V303.68H401.50V303.50H403.25V303.43H405.01V303.35H406.76V303.28H408.52V303.21H410.27V303.14H412.03V303.06H413.78V302.99H415.54V302.92H417.29V302.85H419.05V302.77H420.80V302.70H422.60V302.20H424.40V301.70H426.20V301.20H427.70V300.50H505.70V300.70" fill="none" stroke="#a8072f" stroke-width="1.45"/>
<path d="M433.0,298.3v4.4 M408.8,301.0v4.4 M434.1,298.3v4.4 M371.0,304.2v4.4 M474.0,298.4v4.4 M475.8,298.4v4.4 M446.9,298.3v4.4 M363.2,305.5v4.4 M424.4,299.5v4.4 M391.6,302.2v4.4 M378.4,303.4v4.4 M497.7,298.5v4.4 M505.1,298.5v4.4 M343.6,310.4v4.4 M482.0,298.4v4.4 M438.4,298.3v4.4 M400.8,301.4v4.4 M384.1,302.9v4.4 M450.5,298.4v4.4 M413.5,300.8v4.4 M452.4,298.4v4.4 M448.3,298.4v4.4 M358.6,306.3v4.4 M466.3,298.4v4.4 M502.7,298.5v4.4 M500.5,298.5v4.4 M440.1,298.3v4.4 M343.5,310.4v4.4 M336.7,312.4v4.4 M358.7,306.3v4.4 M495.7,298.5v4.4 M387.4,302.6v4.4 M398.1,301.6v4.4 M488.4,298.5v4.4 M389.3,302.5v4.4 M429.2,298.3v4.4 M410.0,300.9v4.4 M347.0,309.6v4.4 M435.2,298.3v4.4 M479.2,298.4v4.4 M362.5,305.6v4.4 M374.1,303.9v4.4 M406.1,301.1v4.4 M342.3,310.8v4.4 M420.3,300.5v4.4 M474.8,298.4v4.4 M447.6,298.4v4.4 M426.5,298.8v4.4 M481.1,298.4v4.4 M361.4,305.8v4.4 M432.3,298.3v4.4 M399.5,301.5v4.4" stroke="#a8072f" stroke-width="0.7" opacity="0.85"/>
<path d="M312.10,336.00H314.00V334.10H315.90V332.20H318.00V328.00H320.20V325.30H322.30V322.60H323.90V316.70H326.00V315.10H327.65V314.85H329.30V314.60H331.40V313.80H333.50V313.00H335.10V311.90H336.70V310.80H338.35V310.00H340.00V309.20H342.10V308.95H344.20V308.70H346.13V308.33H348.07V307.97H350.00V307.60H351.74V307.40H353.48V307.20H355.22V307.00H356.96V306.80H358.70V306.60H360.48V306.38H362.27V306.17H364.05V305.95H365.83V305.73H367.62V305.52H369.40V305.30H371.26V305.21H373.12V305.12H374.98V305.03H376.84V304.94H378.70V304.85H380.56V304.76H382.42V304.67H384.28V304.58H386.14V304.49H388.00V304.40H389.78V304.38H391.56V304.36H393.33V304.33H395.11V304.31H396.89V304.29H398.67V304.27H400.44V304.24H402.22V304.22H404.00V304.20H405.78V304.18H407.56V304.16H409.33V304.13H411.11V304.11H412.89V304.09H414.67V304.07H416.44V304.04H418.22V304.02H420.00V304.00H505.00V304.20" fill="none" stroke="#a80a33" stroke-width="0.95"/>
<path d="M412.5,301.9v4.4 M430.6,301.8v4.4 M492.2,302.0v4.4 M414.7,301.9v4.4 M421.8,301.8v4.4 M435.3,301.8v4.4 M367.2,303.4v4.4 M422.5,301.8v4.4 M442.5,301.9v4.4 M470.0,301.9v4.4 M351.9,305.2v4.4 M387.3,302.2v4.4 M351.3,305.2v4.4 M472.8,301.9v4.4 M453.2,301.9v4.4 M343.1,306.6v4.4 M502.0,302.0v4.4 M499.0,302.0v4.4 M446.5,301.9v4.4 M440.0,301.8v4.4 M362.6,303.9v4.4 M338.5,307.7v4.4 M425.3,301.8v4.4 M346.1,306.1v4.4 M368.1,303.3v4.4 M376.9,302.7v4.4 M341.1,306.9v4.4 M414.4,301.9v4.4 M410.4,301.9v4.4 M478.4,301.9v4.4 M423.7,301.8v4.4 M444.2,301.9v4.4 M420.5,301.8v4.4 M448.0,301.9v4.4 M413.3,301.9v4.4 M383.0,302.4v4.4 M504.6,302.0v4.4 M504.3,302.0v4.4 M478.0,301.9v4.4 M455.6,301.9v4.4" stroke="#a80a33" stroke-width="0.7" opacity="0.85"/>
<path d="M312.10,336.00H314.25V333.85H316.40V331.70H318.00V329.30H319.60V326.90H321.20V324.20H322.80V321.50H324.40V317.80H325.75V317.00H327.10V316.20H329.25V315.65H331.40V315.10H333.55V314.05H335.70V313.00H337.85V311.90H340.00V310.80H345.30V310.80H346.87V310.47H348.43V310.13H350.00V309.80H351.74V309.70H353.48V309.60H355.22V309.50H356.96V309.40H358.70V309.30H360.48V309.20H362.27V309.10H364.05V309.00H365.83V308.90H367.62V308.80H369.40V308.70H371.17V308.62H372.93V308.53H374.70V308.45H376.47V308.37H378.23V308.28H380.00V308.20H382.00V307.93H384.00V307.65H386.00V307.38H388.00V307.10H389.78V307.08H391.56V307.07H393.33V307.05H395.11V307.03H396.89V307.02H398.67V307.00H400.44V306.98H402.22V306.97H404.00V306.95H405.78V306.93H407.56V306.92H409.33V306.90H411.11V306.88H412.89V306.87H414.67V306.85H416.44V306.83H418.22V306.82H420.00V306.80H505.00V307.00" fill="none" stroke="#a80a33" stroke-width="0.95" stroke-dasharray="2.2,1.8"/>
<path d="M416.2,304.6v4.4 M447.1,304.7v4.4 M448.6,304.7v4.4 M360.1,307.0v4.4 M337.8,309.7v4.4 M399.3,304.8v4.4 M382.3,305.7v4.4 M472.9,304.7v4.4 M452.7,304.7v4.4 M437.6,304.6v4.4 M430.3,304.6v4.4 M447.8,304.7v4.4 M360.6,307.0v4.4 M410.4,304.7v4.4 M363.4,306.8v4.4 M489.1,304.8v4.4 M345.9,308.5v4.4 M474.4,304.7v4.4 M348.6,307.9v4.4 M452.1,304.7v4.4 M393.0,304.9v4.4 M404.4,304.7v4.4 M478.4,304.7v4.4 M339.1,309.0v4.4 M346.3,308.4v4.4 M490.6,304.8v4.4 M422.0,304.6v4.4 M351.4,307.5v4.4 M502.8,304.8v4.4 M496.0,304.8v4.4 M355.0,307.3v4.4 M407.5,304.7v4.4 M358.8,307.1v4.4 M388.8,304.9v4.4 M441.0,304.6v4.4 M363.6,306.8v4.4 M453.8,304.7v4.4 M344.7,308.6v4.4 M364.9,306.8v4.4 M473.9,304.7v4.4 M403.7,304.8v4.4 M406.8,304.7v4.4 M436.7,304.6v4.4 M416.6,304.6v4.4 M401.0,304.8v4.4 M341.2,308.6v4.4 M458.7,304.7v4.4 M499.5,304.8v4.4 M501.0,304.8v4.4 M448.1,304.7v4.4 M396.2,304.8v4.4 M397.4,304.8v4.4" stroke="#a80a33" stroke-width="0.7" opacity="0.85"/>
<line x1="61.8" y1="118.0" x2="75.1" y2="118.0" stroke="#a8072f" stroke-width="1.5"/>
<line x1="61.8" y1="128.1" x2="75.1" y2="128.1" stroke="#d7899c" stroke-width="1.4"/>
<line x1="61.8" y1="137.7" x2="75.1" y2="137.7" stroke="#d27a90" stroke-width="1.2" stroke-dasharray="1.6,2.6"/>
<line x1="318.8" y1="118.0" x2="332.1" y2="118.0" stroke="#a8072f" stroke-width="1.5"/>
<line x1="318.8" y1="128.1" x2="332.1" y2="128.1" stroke="#d7899c" stroke-width="1.4"/>
<line x1="318.8" y1="137.7" x2="332.1" y2="137.7" stroke="#d27a90" stroke-width="1.2" stroke-dasharray="1.6,2.6"/>
<line x1="61.8" y1="221.5" x2="75.1" y2="221.5" stroke="#a8072f" stroke-width="1.5"/>
<line x1="61.8" y1="231.6" x2="75.1" y2="231.6" stroke="#d7899c" stroke-width="1.4"/>
<line x1="61.8" y1="241.2" x2="75.1" y2="241.2" stroke="#d27a90" stroke-width="1.2" stroke-dasharray="1.6,2.6"/>
<line x1="318.8" y1="221.5" x2="332.1" y2="221.5" stroke="#a8072f" stroke-width="1.5"/>
<line x1="318.8" y1="231.6" x2="332.1" y2="231.6" stroke="#d7899c" stroke-width="1.4"/>
<line x1="318.8" y1="241.2" x2="332.1" y2="241.2" stroke="#d27a90" stroke-width="1.2" stroke-dasharray="1.6,2.6"/>
<text x="78.65" y="121.00" class="lg" textLength="19.7" lengthAdjust="spacingAndGlyphs">TERS</text>
<text x="100.70" y="121.00" class="lg" textLength="57.50" lengthAdjust="spacingAndGlyphs"><tspan class="lt">&lt;</tspan><tspan class="eq">=</tspan>29.5 (N<tspan class="eq">=</tspan>199)</text>
<text x="78.65" y="130.60" class="lg" textLength="19.7" lengthAdjust="spacingAndGlyphs">TERS</text>
<text x="100.70" y="130.60" class="lg" textLength="64.30" lengthAdjust="spacingAndGlyphs">[30, 37.5] (N<tspan class="eq">=</tspan>181)</text>
<text x="78.65" y="140.00" class="lg" textLength="19.7" lengthAdjust="spacingAndGlyphs">TERS</text>
<text x="100.70" y="140.00" class="lg" textLength="51.50" lengthAdjust="spacingAndGlyphs"><tspan class="lt">&gt;</tspan><tspan class="eq">=</tspan>38 (N<tspan class="eq">=</tspan>176)</text>
<text x="336.05" y="121.00" class="lg" textLength="19.7" lengthAdjust="spacingAndGlyphs">TERS</text>
<text x="358.10" y="121.00" class="lg" textLength="58.00" lengthAdjust="spacingAndGlyphs"><tspan class="lt">&lt;</tspan><tspan class="eq">=</tspan>29.5 (N<tspan class="eq">=</tspan>199)</text>
<text x="336.05" y="130.60" class="lg" textLength="19.7" lengthAdjust="spacingAndGlyphs">TERS</text>
<text x="358.10" y="130.60" class="lg" textLength="63.20" lengthAdjust="spacingAndGlyphs">[30, 37.5] (N<tspan class="eq">=</tspan>181)</text>
<text x="336.05" y="140.00" class="lg" textLength="19.7" lengthAdjust="spacingAndGlyphs">TERS</text>
<text x="358.10" y="140.00" class="lg" textLength="51.60" lengthAdjust="spacingAndGlyphs"><tspan class="lt">&gt;</tspan><tspan class="eq">=</tspan>38 (N<tspan class="eq">=</tspan>176)</text>
<text x="78.45" y="223.90" class="lg" textLength="19.7" lengthAdjust="spacingAndGlyphs">TERS</text>
<text x="100.50" y="223.90" class="lg" textLength="58.40" lengthAdjust="spacingAndGlyphs"><tspan class="lt">&lt;</tspan><tspan class="eq">=</tspan>29.5 (N<tspan class="eq">=</tspan>199)</text>
<text x="78.45" y="233.50" class="lg" textLength="19.7" lengthAdjust="spacingAndGlyphs">TERS</text>
<text x="100.50" y="233.50" class="lg" textLength="64.50" lengthAdjust="spacingAndGlyphs">[30, 37.5] (N<tspan class="eq">=</tspan>181)</text>
<text x="78.45" y="243.10" class="lg" textLength="19.7" lengthAdjust="spacingAndGlyphs">TERS</text>
<text x="100.50" y="243.10" class="lg" textLength="51.70" lengthAdjust="spacingAndGlyphs"><tspan class="lt">&gt;</tspan><tspan class="eq">=</tspan>38 (N<tspan class="eq">=</tspan>176)</text>
<text x="335.85" y="223.90" class="lg" textLength="19.7" lengthAdjust="spacingAndGlyphs">TERS</text>
<text x="357.90" y="223.90" class="lg" textLength="58.20" lengthAdjust="spacingAndGlyphs"><tspan class="lt">&lt;</tspan><tspan class="eq">=</tspan>29.5 (N<tspan class="eq">=</tspan>199)</text>
<text x="335.85" y="233.50" class="lg" textLength="19.7" lengthAdjust="spacingAndGlyphs">TERS</text>
<text x="357.90" y="233.50" class="lg" textLength="63.40" lengthAdjust="spacingAndGlyphs">[30, 37.5] (N<tspan class="eq">=</tspan>181)</text>
<text x="335.85" y="243.10" class="lg" textLength="19.7" lengthAdjust="spacingAndGlyphs">TERS</text>
<text x="357.90" y="243.10" class="lg" textLength="51.80" lengthAdjust="spacingAndGlyphs"><tspan class="lt">&gt;</tspan><tspan class="eq">=</tspan>38 (N<tspan class="eq">=</tspan>176)</text>
<text x="123.25" y="31.80" class="lg" textLength="19.7" lengthAdjust="spacingAndGlyphs">TERS</text>
<text x="144.90" y="31.80" class="lg" textLength="107.70" lengthAdjust="spacingAndGlyphs"><tspan class="lt">&lt;</tspan><tspan class="eq">=</tspan>29.5 <tspan class="vs">vs.</tspan> [30, 37.5] P <tspan class="eq">=</tspan> 0.011</text>
<text x="123.25" y="41.20" class="lg" textLength="19.7" lengthAdjust="spacingAndGlyphs">TERS</text>
<text x="144.90" y="41.20" class="lg" textLength="92.30" lengthAdjust="spacingAndGlyphs"><tspan class="lt">&lt;</tspan><tspan class="eq">=</tspan>29.5 <tspan class="vs">vs.</tspan> <tspan class="lt">&gt;</tspan><tspan class="eq">=</tspan>38 P <tspan class="eq">=</tspan> 0.06</text>
<text x="123.25" y="50.80" class="lg" textLength="19.7" lengthAdjust="spacingAndGlyphs">TERS</text>
<text x="144.90" y="50.80" class="lg" textLength="98.50" lengthAdjust="spacingAndGlyphs">[30, 37.5] <tspan class="vs">vs.</tspan> <tspan class="lt">&gt;</tspan><tspan class="eq">=</tspan>38 P <tspan class="eq">=</tspan> 0.58</text>
<text x="380.15" y="31.50" class="lg" textLength="19.7" lengthAdjust="spacingAndGlyphs">TERS</text>
<text x="401.80" y="31.50" class="lg" textLength="104.40" lengthAdjust="spacingAndGlyphs"><tspan class="lt">&lt;</tspan><tspan class="eq">=</tspan>29.5 <tspan class="vs">vs.</tspan> [30, 37.5] P <tspan class="eq">=</tspan> 0.14</text>
<text x="380.15" y="40.90" class="lg" textLength="19.7" lengthAdjust="spacingAndGlyphs">TERS</text>
<text x="401.80" y="40.90" class="lg" textLength="93.20" lengthAdjust="spacingAndGlyphs"><tspan class="lt">&lt;</tspan><tspan class="eq">=</tspan>29.5 <tspan class="vs">vs.</tspan> <tspan class="lt">&gt;</tspan><tspan class="eq">=</tspan>38 P <tspan class="eq">=</tspan> 0.41</text>
<text x="380.15" y="50.80" class="lg" textLength="19.7" lengthAdjust="spacingAndGlyphs">TERS</text>
<text x="401.80" y="50.80" class="lg" textLength="99.95" lengthAdjust="spacingAndGlyphs">[30, 37.5] <tspan class="vs">vs.</tspan> <tspan class="lt">&gt;</tspan><tspan class="eq">=</tspan>38 P <tspan class="eq">=</tspan> 0.57</text>
<text x="129.65" y="267.70" class="lg" textLength="19.7" lengthAdjust="spacingAndGlyphs">TERS</text>
<text x="151.30" y="267.70" class="lg" textLength="108.60" lengthAdjust="spacingAndGlyphs"><tspan class="lt">&lt;</tspan><tspan class="eq">=</tspan>29.5 <tspan class="vs">vs.</tspan> [30, 37.5] P <tspan class="eq">=</tspan> 0.018</text>
<text x="129.65" y="276.90" class="lg" textLength="19.7" lengthAdjust="spacingAndGlyphs">TERS</text>
<text x="151.30" y="276.90" class="lg" textLength="98.00" lengthAdjust="spacingAndGlyphs"><tspan class="lt">&lt;</tspan><tspan class="eq">=</tspan>29.5 <tspan class="vs">vs.</tspan> <tspan class="lt">&gt;</tspan><tspan class="eq">=</tspan>38 P <tspan class="eq">=</tspan> 0.039</text>
<text x="129.65" y="286.80" class="lg" textLength="19.7" lengthAdjust="spacingAndGlyphs">TERS</text>
<text x="151.30" y="286.80" class="lg" textLength="98.90" lengthAdjust="spacingAndGlyphs">[30, 37.5] <tspan class="vs">vs.</tspan> <tspan class="lt">&gt;</tspan><tspan class="eq">=</tspan>38 P <tspan class="eq">=</tspan> 0.81</text>
<text x="387.05" y="268.60" class="lg" textLength="19.7" lengthAdjust="spacingAndGlyphs">TERS</text>
<text x="408.70" y="268.60" class="lg" textLength="104.40" lengthAdjust="spacingAndGlyphs"><tspan class="lt">&lt;</tspan><tspan class="eq">=</tspan>29.5 <tspan class="vs">vs.</tspan> [30, 37.5] P <tspan class="eq">=</tspan> 0.76</text>
<text x="387.05" y="278.20" class="lg" textLength="19.7" lengthAdjust="spacingAndGlyphs">TERS</text>
<text x="408.70" y="278.20" class="lg" textLength="93.20" lengthAdjust="spacingAndGlyphs"><tspan class="lt">&lt;</tspan><tspan class="eq">=</tspan>29.5 <tspan class="vs">vs.</tspan> <tspan class="lt">&gt;</tspan><tspan class="eq">=</tspan>38 P <tspan class="eq">=</tspan> 0.45</text>
<text x="387.05" y="287.90" class="lg" textLength="19.7" lengthAdjust="spacingAndGlyphs">TERS</text>
<text x="408.70" y="287.90" class="lg" textLength="100.10" lengthAdjust="spacingAndGlyphs">[30, 37.5] <tspan class="vs">vs.</tspan> <tspan class="lt">&gt;</tspan><tspan class="eq">=</tspan>38 P <tspan class="eq">=</tspan> 0.68</text>
</g>
</svg>
</body></html>
